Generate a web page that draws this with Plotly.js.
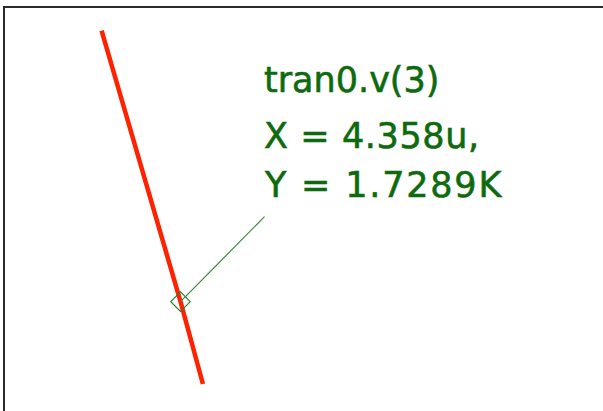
<!DOCTYPE html>
<html>
<head>
<meta charset="utf-8">
<script src="https://cdn.plot.ly/plotly-3.0.1.min.js"></script>
<style>html,body{margin:0;padding:0;background:#fff;}#chart{width:603px;height:411px;}
.annotation-text{stroke:#0e6a0e;stroke-width:0.6px;}</style>
</head>
<body>
<div id="chart"></div>
<script>
// Trace tran0.v(3): time (s) and voltage (V)
var timeValues = [4.3316e-6, 4.358e-6, 4.3655e-6];
var voltageValues = [1930.6, 1728.9, 1667.6];
// Cursor marker
var cursorX = [4.358e-6];
var cursorY = [1728.9];
var cursorLabels = ["tran0.v(3)", "X = 4.358u,", "Y = 1.7289K"];

var green = '#0e6a0e';
var traces = [
  {x: timeValues, y: voltageValues, mode: 'lines', type: 'scatter',
   line: {color: '#ff2200', width: 4.5}, hoverinfo: 'skip'},
  {x: cursorX, y: cursorY, mode: 'markers', type: 'scatter',
   marker: {symbol: 'diamond-open', size: 15, color: '#2e7d2e', line: {width: 1.2, color: '#2e7d2e'}},
   hoverinfo: 'skip'}
];

var labelY = [0.8201, 0.6836, 0.5608];
var labelSpacing = ['0px', '0.6px', '1.8px'];
var annotations = [
  {x: cursorX[0], y: cursorY[0], xref: 'x', yref: 'y', text: ' ', font: {size: 1},
   showarrow: true, arrowhead: 0, arrowwidth: 1.2, arrowcolor: '#3f8a3f',
   ax: 84, ay: -85, standoff: 0, startstandoff: 0, xanchor: 'left', yanchor: 'bottom'}
];
for (var i = 0; i < cursorLabels.length; i++) {
  annotations.push({x: 0.4318, y: labelY[i], xref: 'paper', yref: 'paper',
    text: cursorLabels[i], showarrow: false, xanchor: 'left', yanchor: 'middle', align: 'left',
    borderpad: 0, font: {family: 'DejaVu Sans', size: 35, color: green}});
}

var layout = {
  width: 603, height: 411,
  margin: {l: 5, r: 0, t: 8, b: 0, pad: 0},
  paper_bgcolor: '#ffffff', plot_bgcolor: '#ffffff',
  showlegend: false, hovermode: false,
  xaxis: {range: [4.2993e-6, 4.4993e-6], side: 'top', showline: true, linecolor: '#2b2b2b', linewidth: 2,
          showgrid: false, zeroline: false, showticklabels: false, ticks: ''},
  yaxis: {range: [1647.5, 1947.5], showline: true, linecolor: '#2b2b2b', linewidth: 2,
          showgrid: false, zeroline: false, showticklabels: false, ticks: ''},
  annotations: annotations
};
Plotly.newPlot('chart', traces, layout, {displayModeBar: false, staticPlot: true}).then(function () {
  var texts = document.querySelectorAll('.annotation-text');
  for (var i = 1; i < texts.length; i++) {
    texts[i].style.letterSpacing = labelSpacing[i - 1];
  }
});
</script>
</body>
</html>
